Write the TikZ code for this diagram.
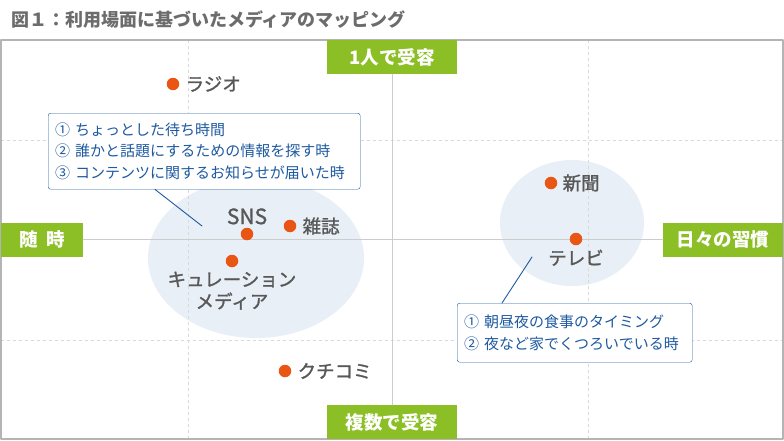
\documentclass[tikz,border=0pt]{standalone}
\usepackage{fontspec}
\setmainfont{Noto Sans CJK JP}
\newfontfamily\medfont[FakeBold=1.3]{Noto Sans CJK JP}
\usetikzlibrary{positioning}
\definecolor{mapdot}{RGB}{233,85,19}
\definecolor{labgray}{RGB}{88,88,88}
\definecolor{titlegray}{RGB}{108,108,108}
\definecolor{noteblue}{RGB}{30,90,160}
\definecolor{axgreen}{RGB}{140,191,38}
\definecolor{ellfill}{RGB}{233,239,247}
\definecolor{framegray}{RGB}{180,180,180}
\definecolor{axisgray}{RGB}{204,204,204}
\definecolor{gridgray}{RGB}{218,218,218}
\begin{document}
\begin{tikzpicture}[x=1pt,y=-1pt,line join=round,line cap=round,
  dot/.style={circle,fill=mapdot,inner sep=0pt,minimum size=12.5pt},
  media/.style={text=labgray,font=\medfont\fontsize{18.5}{22}\selectfont,inner sep=1pt},
  axislab/.style={fill=axgreen,text=white,font=\bfseries\fontsize{18.5}{18.5}\selectfont,minimum height=34pt,inner sep=0pt},
  callout/.style={draw=noteblue,fill=white,rounded corners=2.5pt,text=noteblue,align=left,font=\fontsize{15}{21.5}\selectfont,inner xsep=7pt,anchor=north west}]
\def \xmin{1}\def \xmax{783}\def \ymin{40}\def \ymax{439}
\useasboundingbox (0,0) rectangle (784,440);
\node[anchor=west,text=titlegray,font=\bfseries\fontsize{18}{18}\selectfont,inner sep=0pt] (title) at (11,20) {図１：利用場面に基づいたメディアのマッピング};
\fill[ellfill] (256,258) ellipse [x radius=108pt, y radius=80pt]
	(572,223) ellipse [x radius=72pt, y radius=63pt];
\draw[gridgray,dashed,dash pattern=on 3pt off 3pt] (188,\ymin)--(188,\ymax) (588,\ymin)--(588,\ymax)
	(\xmin,140)--(\xmax,140) (\xmin,340)--(\xmax,340);
\draw[framegray,line width=1.2pt] (\xmin,\ymin) rectangle (\xmax,\ymax);
\node[axislab,minimum width=130pt] (upper) at (392,57) {1人で受容};
\node[axislab,minimum width=130pt] (lower) at (392,422) {複数で受容};
\node[axislab,minimum width=82pt] (left) at (42,239.5) {随\hspace{0.45em}時};
\node[axislab,minimum width=120pt] (right) at (723,239.5) {日々の習慣};
\draw[axisgray,line width=1pt] (left)--(right) (upper)--(lower);
\node[dot] (radio) at (173,84) {};
\node[media,right=5pt of radio] (radiolab) {ラジオ};
\node[dot] (paper) at (551,183) {};
\node[media,right=4pt of paper] (paperlab) {新聞};
\node[dot] (tv) at (576,239) {};
\node[media,below=3pt of tv] (tvlab) {テレビ};
\node[dot] (sns) at (247,234) {};
\node[media,above=2pt of sns,font=\medfont\fontsize{21}{22}\selectfont] (snslab) {SNS};
\node[dot] (mag) at (290,226) {};
\node[media,right=5pt of mag] (maglab) {雑誌};
\node[dot] (cur) at (232,261) {};
\node[media,below=3pt of cur,align=center] (curlab) {キュレーション\\メディア};
\node[dot] (word) at (285,371) {};
\node[media,right=5pt of word] (wordlab) {クチコミ};
\node[callout,text width=298pt,minimum height=76pt] (lnote) at (48,113)
	{① ちょっとした待ち時間\\② 誰かと話題にするための情報を探す時\\③ コンテンツに関するお知らせが届いた時};
\node[callout,text width=221pt,minimum height=59pt] (rnote) at (457,303)
	{① 朝昼夜の食事のタイミング\\② 夜など家でくつろいでいる時};
\coordinate (lpt) at (202,226);
\coordinate (rpt) at (532,257);
\draw[noteblue,line width=0.9pt] ([xshift=107pt]lnote.south west)--(lpt)
	([xshift=45pt]rnote.north west)--(rpt);
\end{tikzpicture}
\end{document}
